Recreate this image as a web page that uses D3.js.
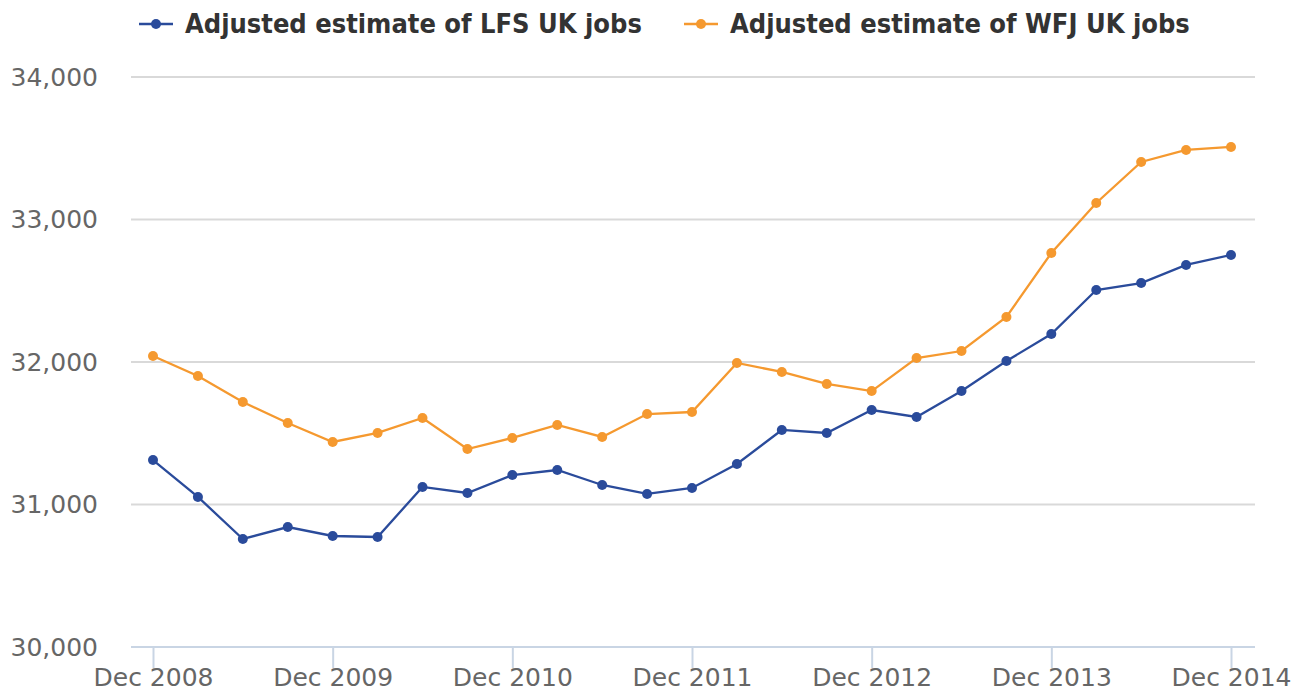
<!DOCTYPE html>
<html>
<head>
<meta charset="utf-8">
<script src="https://cdn.jsdelivr.net/npm/d3@7"></script>
<style>
  body { margin: 0; background: #fff; }
  svg { display: block; font-family: "DejaVu Sans", sans-serif; }
</style>
</head>
<body>
<svg id="chart" width="1303" height="691"></svg>
<script>
// quarterly periods, Dec 2008 .. Dec 2014
const periods = [
  "Dec 2008", "Mar 2009", "Jun 2009", "Sep 2009",
  "Dec 2009", "Mar 2010", "Jun 2010", "Sep 2010",
  "Dec 2010", "Mar 2011", "Jun 2011", "Sep 2011",
  "Dec 2011", "Mar 2012", "Jun 2012", "Sep 2012",
  "Dec 2012", "Mar 2013", "Jun 2013", "Sep 2013",
  "Dec 2013", "Mar 2014", "Jun 2014", "Sep 2014",
  "Dec 2014"
];
const lfsJobs = [
  31312, 31053, 30758, 30842, 30779, 30772, 31123, 31081,
  31207, 31242, 31137, 31074, 31116, 31284, 31523, 31502,
  31663, 31614, 31796, 32007, 32196, 32505, 32554, 32681,
  32751
];
const wfjJobs = [
  32042, 31902, 31719, 31572, 31439, 31502, 31607, 31389,
  31467, 31558, 31474, 31635, 31649, 31993, 31930, 31846,
  31796, 32028, 32077, 32316, 32765, 33116, 33404, 33488,
  33509
];
const yTicks = [30000, 31000, 32000, 33000, 34000];
const xTickLabels = ["Dec 2008", "Dec 2009", "Dec 2010", "Dec 2011", "Dec 2012", "Dec 2013", "Dec 2014"];

const series = [
  { name: "Adjusted estimate of LFS UK jobs", values: lfsJobs, color: "#2a4b9b" },
  { name: "Adjusted estimate of WFJ UK jobs", values: wfjJobs, color: "#f5992f" }
];

const svg = d3.select("#chart");
const plotLeft = 131, plotRight = 1255, plotTop = 77, plotBottom = 647;

const x = d3.scalePoint().domain(periods).range([153, 1231]);
const y = d3.scaleLinear().domain([30000, 34000]).range([plotBottom, plotTop]);

// gridlines
svg.append("g")
  .selectAll("line")
  .data(yTicks.filter(d => d > 30000))
  .join("line")
  .attr("x1", plotLeft).attr("x2", plotRight)
  .attr("y1", d => y(d)).attr("y2", d => y(d))
  .attr("stroke", "#d9d9d9").attr("stroke-width", 2);

// y labels
const yAxis = svg.append("g")
  .attr("transform", `translate(${plotLeft},0)`)
  .call(d3.axisLeft(y).tickValues(yTicks).tickSize(0).tickPadding(33)
    .tickFormat(d3.format(",")));
yAxis.select(".domain").remove();
yAxis.selectAll("text")
  .attr("fill", "#666").style("font-size", "25px")
  .attr("font-family", "DejaVu Sans");

// x axis
const xAxis = svg.append("g")
  .attr("transform", `translate(0,${plotBottom})`)
  .call(d3.axisBottom(x).tickValues(xTickLabels).tickSize(21).tickPadding(0));
xAxis.select(".domain")
  .attr("d", `M${plotLeft},0H${plotRight}`)
  .attr("stroke", "#c9d5e4").attr("stroke-width", 2);
xAxis.selectAll(".tick line").attr("stroke", "#c9d5e4").attr("stroke-width", 2);
xAxis.selectAll("text")
  .attr("fill", "#666").style("font-size", "25px")
  .attr("font-family", "DejaVu Sans");

// lines + markers
const line = d3.line().x((d, i) => x(periods[i])).y(d => y(d));
series.forEach(s => {
  const g = svg.append("g");
  g.append("path")
    .datum(s.values)
    .attr("d", line)
    .attr("fill", "none")
    .attr("stroke", s.color)
    .attr("stroke-width", 2.3);
  g.selectAll("circle")
    .data(s.values)
    .join("circle")
    .attr("cx", (d, i) => x(periods[i]))
    .attr("cy", d => y(d))
    .attr("r", 5)
    .attr("fill", s.color);
});

// legend
const legendX = [139, 684];
series.forEach((s, i) => {
  const g = svg.append("g").attr("transform", `translate(${legendX[i]},24)`);
  g.append("line").attr("x1", 0).attr("x2", 34)
    .attr("stroke", s.color).attr("stroke-width", 2.3);
  g.append("circle").attr("cx", 17).attr("r", 5).attr("fill", s.color);
  g.append("text")
    .attr("x", 46).attr("dy", "0.35em")
    .attr("fill", "#333")
    .style("font-family", "'DejaVu Sans Condensed', 'DejaVu Sans'")
    .style("font-weight", "bold")
    .style("font-size", "27px")
    .text(s.name);
});
</script>
</body>
</html>
